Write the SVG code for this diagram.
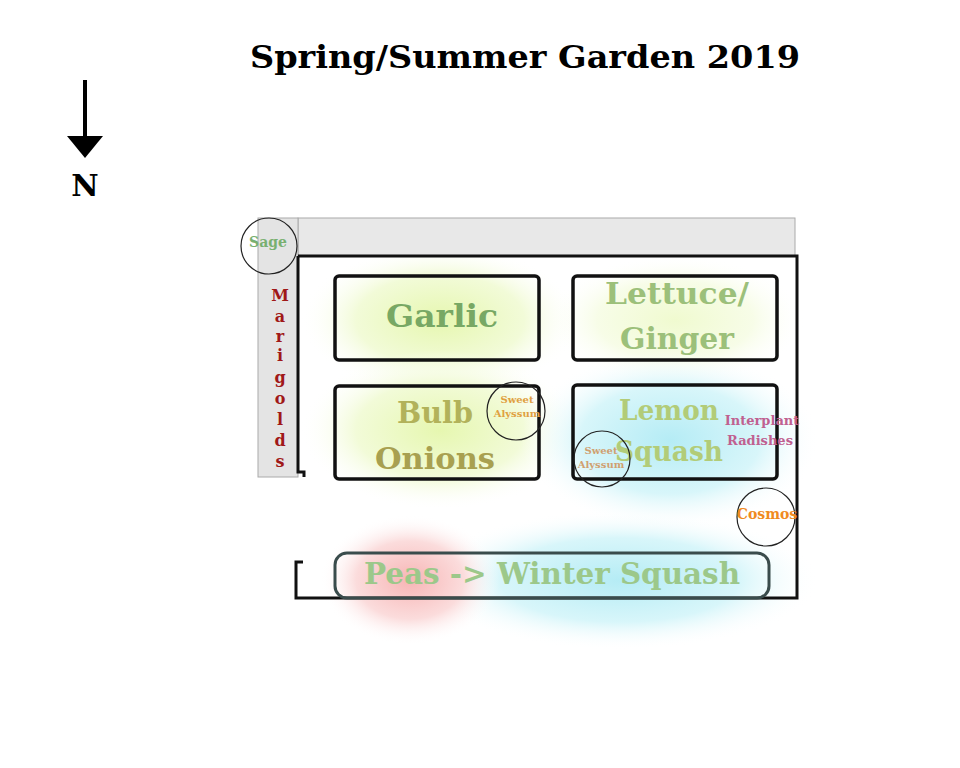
<svg xmlns="http://www.w3.org/2000/svg" width="960" height="768" viewBox="0 0 960 768">
<defs>
<radialGradient id="gG"><stop offset="0" stop-color="#e6f7b0"/><stop offset="0.6" stop-color="#f2fbd8"/><stop offset="1" stop-color="#fff" stop-opacity="0"/></radialGradient>
<radialGradient id="gC"><stop offset="0" stop-color="#b5ecf5"/><stop offset="0.6" stop-color="#d8f6fa"/><stop offset="1" stop-color="#fff" stop-opacity="0"/></radialGradient>
<radialGradient id="gR"><stop offset="0" stop-color="#f7b5b5"/><stop offset="0.6" stop-color="#fbdcdc"/><stop offset="1" stop-color="#fff" stop-opacity="0"/></radialGradient>
</defs>
<style>
.t{font-family:"DejaVu Serif","Liberation Serif",serif;font-weight:bold;text-anchor:middle}
.bed{fill:none;stroke:#111;stroke-width:3.5}
.c{fill:none;stroke:#222;stroke-width:1.2}
</style>
<rect width="960" height="768" fill="#fff"/>
<text class="t" x="525" y="68" font-size="32" fill="#000" textLength="550" lengthAdjust="spacingAndGlyphs">Spring/Summer Garden 2019</text>
<g id="north">
<line x1="85" y1="80" x2="85" y2="140" stroke="#000" stroke-width="4"/>
<polygon points="67,136 103,136 85,158" fill="#000"/>
<text class="t" x="85" y="196" font-size="30" fill="#000">N</text>
</g>
<g id="glows">
<ellipse cx="440" cy="320" rx="140" ry="75" fill="url(#gG)"/>
<ellipse cx="440" cy="430" rx="140" ry="80" fill="url(#gG)"/>
<ellipse cx="675" cy="320" rx="130" ry="65" fill="url(#gG)" opacity="0.6"/>
<ellipse cx="670" cy="440" rx="150" ry="90" fill="url(#gC)"/>
<ellipse cx="620" cy="580" rx="200" ry="70" fill="url(#gC)"/>
<ellipse cx="410" cy="580" rx="90" ry="65" fill="url(#gR)"/>
</g>
<g id="borders">
<rect x="298" y="218" width="497" height="38" fill="#e8e8e8" stroke="#aaa"/>
<rect x="258" y="218" width="40" height="259" fill="#e4e4e4" stroke="#aaa"/>
<path d="M298,256 H797 V598 H296 V562 H303" fill="none" stroke="#111" stroke-width="3"/>
<path d="M298,256 V472 H304 V477" fill="none" stroke="#111" stroke-width="3"/>
</g>
<g id="garlic"><rect class="bed" x="335" y="276" width="204" height="84" rx="4"/>
<text class="t" x="442" y="327" font-size="32" fill="#78a864" textLength="112" lengthAdjust="spacingAndGlyphs">Garlic</text></g>
<g id="lettuce"><rect class="bed" x="573" y="276" width="204" height="84" rx="4"/>
<text class="t" x="677" y="304" font-size="29" fill="#9cc07a" textLength="144" lengthAdjust="spacingAndGlyphs">Lettuce/</text>
<text class="t" x="677" y="349" font-size="29" fill="#9cc07a" textLength="114" lengthAdjust="spacingAndGlyphs">Ginger</text></g>
<g id="onions"><rect class="bed" x="335" y="386" width="204" height="93" rx="4"/>
<text class="t" x="435" y="423" font-size="29" fill="#b2b25a" textLength="76" lengthAdjust="spacingAndGlyphs">Bulb</text>
<text class="t" x="435" y="469" font-size="29" fill="#a8a050" textLength="120" lengthAdjust="spacingAndGlyphs">Onions</text></g>
<g id="lemon"><rect class="bed" x="573" y="385" width="204" height="94" rx="4" stroke="#1e2e30"/>
<text class="t" x="669" y="420" font-size="27" fill="#b2cc78" textLength="100" lengthAdjust="spacingAndGlyphs">Lemon</text>
<text class="t" x="669" y="461" font-size="27" fill="#b2cc78" textLength="108" lengthAdjust="spacingAndGlyphs">Squash</text></g>
<g id="peas"><rect x="335" y="553" width="434" height="45" rx="12" fill="none" stroke="#3a4c4c" stroke-width="3"/>
<text class="t" x="552" y="584" font-size="29" fill="#9cc88a" textLength="376" lengthAdjust="spacingAndGlyphs">Peas -&gt; Winter Squash</text></g>
<g id="marigolds"><text class="t" font-size="16" fill="#a01818">
<tspan x="280" y="301">M</tspan><tspan x="280" y="322">a</tspan><tspan x="280" y="342">r</tspan><tspan x="280" y="361">i</tspan><tspan x="280" y="383">g</tspan><tspan x="280" y="404">o</tspan><tspan x="280" y="425">l</tspan><tspan x="280" y="446">d</tspan><tspan x="280" y="467">s</tspan></text></g>
<g id="sage"><circle class="c" cx="269" cy="246" r="28"/><text class="t" x="268" y="247" font-size="14" fill="#78b070">Sage</text></g>
<g id="alyssum1"><circle class="c" cx="516" cy="411" r="29"/><text class="t" font-size="10" fill="#e0a040"><tspan x="517" y="403">Sweet</tspan><tspan x="517" y="417">Alyssum</tspan></text></g>
<g id="alyssum2"><circle class="c" cx="602" cy="459" r="28"/><text class="t" font-size="10" fill="#d0a070"><tspan x="601" y="454">Sweet</tspan><tspan x="601" y="468">Alyssum</tspan></text></g>
<g id="radishes"><text class="t" font-size="13" fill="#c06090"><tspan x="762" y="425">Interplant</tspan><tspan x="760" y="445">Radishes</tspan></text></g>
<g id="cosmos"><circle class="c" cx="766" cy="517" r="29"/><text class="t" x="767" y="519" font-size="14" fill="#f08a20">Cosmos</text></g>
</svg>
